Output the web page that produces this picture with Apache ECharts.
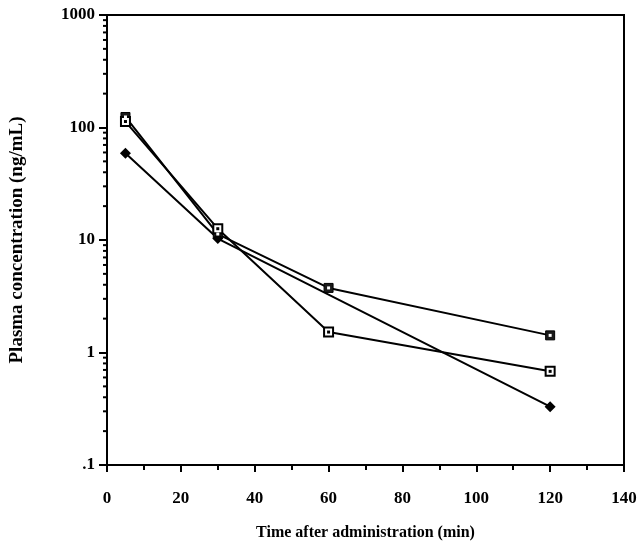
<!DOCTYPE html>
<html>
<head>
<meta charset="utf-8">
<script src="https://cdn.jsdelivr.net/npm/echarts@6/dist/echarts.min.js"></script>
<style>
  html, body { margin: 0; padding: 0; background: #fff; }
  #chart { width: 641px; height: 553px; }
</style>
</head>
<body>
<div id="chart"></div>
<script>
// Sampling times (min)
var timesFull = [5, 30, 60, 120];
var timesDiamond = [5, 30, 120];

// Plasma concentrations (ng/mL)
var filledSquare = [124, 11.3, 3.75, 1.42];
var openSquare = [113, 12.6, 1.52, 0.68];
var diamond = [59, 10.3, 0.33];

// Axis tick labels
var yTickLabels = ['.1', '1', '10', '100', '1000'];
var xTicks = [0, 20, 40, 60, 80, 100, 120, 140];

// Minor log ticks (2..9 within each decade)
var yMinorTicks = [];
[0.1, 1, 10, 100].forEach(function (d) {
  for (var k = 2; k <= 9; k++) yMinorTicks.push(+(d * k).toPrecision(3));
});

var FONT = '"Liberation Serif", "Times New Roman", serif';

function pairs(xs, ys) {
  return xs.map(function (x, i) { return [x, ys[i]]; });
}

var chart = echarts.init(document.getElementById('chart'), null, { renderer: 'canvas' });

var option = {
  backgroundColor: '#fff',
  animation: false,
  grid: {
    left: 106, right: 17, top: 15, bottom: 88,
    show: true, borderColor: '#000', borderWidth: 2, backgroundColor: 'transparent'
  },
  xAxis: {
    type: 'value', min: 0, max: 140, interval: 20,
    name: 'Time after administration (min)',
    nameLocation: 'middle', nameGap: 60,
    nameTextStyle: { fontFamily: FONT, fontWeight: 'bold', fontSize: 16, color: '#000' },
    axisLine: { show: true, onZero: false, lineStyle: { color: '#000', width: 2 } },
    axisTick: { show: true, inside: false, length: 7, lineStyle: { color: '#000', width: 2 } },
    minorTick: { show: true, splitNumber: 2, length: 5, lineStyle: { color: '#000', width: 2 } },
    splitLine: { show: false },
    axisLabel: {
      margin: 25, fontFamily: FONT, fontWeight: 'bold', fontSize: 17, color: '#000',
      formatter: function (v) { return xTicks.indexOf(v) >= 0 ? String(v) : ''; }
    }
  },
  yAxis: {
    type: 'log', logBase: 10, min: 0.1, max: 1000,
    name: 'Plasma concentration (ng/mL)',
    nameLocation: 'middle', nameGap: 80, nameRotate: 90,
    nameTextStyle: { fontFamily: FONT, fontWeight: 'bold', fontSize: 19, color: '#000' },
    axisLine: { show: true, lineStyle: { color: '#000', width: 2 } },
    axisTick: { show: true, inside: false, length: 8, lineStyle: { color: '#000', width: 2 } },
    splitLine: { show: false },
    axisLabel: {
      margin: 12, fontFamily: FONT, fontWeight: 'bold', fontSize: 17, color: '#000',
      formatter: function (v) {
        var idx = Math.round(Math.log10(v)) + 1;
        return yTickLabels[idx] || '';
      }
    }
  },
  series: [
    {
      // minor ticks of the log axis
      type: 'custom',
      silent: true,
      clip: false,
      data: yMinorTicks.map(function (v) { return [0, v]; }),
      renderItem: function (params, api) {
        var p = api.coord([0, api.value(1)]);
        return {
          type: 'line',
          shape: { x1: p[0] - 4, y1: p[1], x2: p[0], y2: p[1] },
          style: { stroke: '#000', lineWidth: 2 }
        };
      }
    },
    {
      name: 'filled square',
      type: 'line',
      data: pairs(timesFull, filledSquare),
      lineStyle: { color: '#000', width: 2 },
      symbol: 'rect', symbolSize: 9,
      itemStyle: { color: '#1a1a1a', borderColor: '#000', borderWidth: 1 },
      z: 3
    },
    {
      name: 'filled square dot',
      type: 'line',
      data: pairs(timesFull, filledSquare),
      lineStyle: { width: 0, opacity: 0 },
      symbol: 'rect', symbolSize: 3,
      itemStyle: { color: '#fff' },
      silent: true,
      z: 4
    },
    {
      name: 'open square',
      type: 'line',
      data: pairs(timesFull, openSquare),
      lineStyle: { color: '#000', width: 2 },
      symbol: 'rect', symbolSize: 9,
      itemStyle: { color: '#fff', borderColor: '#000', borderWidth: 2 },
      z: 3
    },
    {
      name: 'open square dot',
      type: 'line',
      data: pairs(timesFull, openSquare),
      lineStyle: { width: 0, opacity: 0 },
      symbol: 'rect', symbolSize: 3,
      itemStyle: { color: '#000' },
      silent: true,
      z: 4
    },
    {
      name: 'diamond',
      type: 'line',
      data: pairs(timesDiamond, diamond),
      lineStyle: { color: '#000', width: 2 },
      symbol: 'diamond', symbolSize: 11,
      itemStyle: { color: '#000' },
      z: 3
    }
  ]
};

chart.setOption(option);
</script>
</body>
</html>
